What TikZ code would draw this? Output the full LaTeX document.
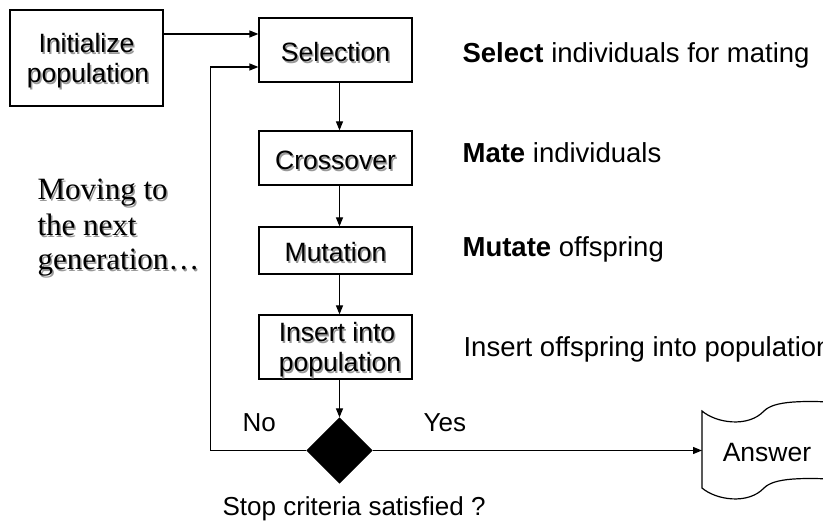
\documentclass[tikz,border=0pt]{standalone}
\usepackage{fontspec}
\setmainfont{Liberation Sans}
\newfontfamily\notefont{Liberation Serif}
\usetikzlibrary{shapes.geometric,arrows.meta}
\definecolor{shadowgray}{gray}{0.6}
\newcommand\txtsh[1]{\makebox[0pt][l]{\hspace{1.5pt}\raisebox{-1.5pt}{\textcolor{shadowgray}{#1}}}#1}
\begin{document}
\begin{tikzpicture}[x=1pt,y=-1pt, line width=1.2pt,
  flowbox/.style={draw, rectangle, inner sep=0pt, minimum width=153pt},
  boxtext/.style={anchor=base, font=\fontsize{26.5}{30}\selectfont, inner sep=0pt},
  sidetext/.style={anchor=base west, font=\fontsize{27.5}{33}\selectfont, inner sep=0pt},
  serifnote/.style={anchor=base west, font=\notefont\fontsize{31}{35}\selectfont, inner sep=0pt},
  plainlbl/.style={anchor=base west, font=\fontsize{26}{30}\selectfont, inner sep=0pt},
  arr/.style={-{Triangle[length=9pt,width=7pt]}},
  decision/.style={diamond, fill=black, draw=black, minimum width=65pt, minimum height=65pt, inner sep=0pt}
]
\useasboundingbox (0,0) rectangle (823,529);
\clip (0,0) rectangle (823,529);
\fill[white] (0,0) rectangle (823,529);

% boxes
\node[flowbox, minimum height=96pt] (init) at (86.5,58) {};
\node[flowbox, minimum height=64pt] (sel) at (335.5,50) {};
\node[flowbox, minimum height=54pt] (cross) at (335.5,158) {};
\node[flowbox, minimum height=47pt] (mut) at (335.5,250.5) {};
\node[flowbox, minimum height=64pt] (ins) at (335.5,347) {};
\node[decision] (dia) at (339.5,450.5) {};

% box texts
\node[boxtext] (initA) at (86.5,53) {\txtsh{Initialize}};
\node[boxtext] (initB) at (88,83) {\txtsh{population}};
\node[boxtext] (selT) at (335.5,62) {\txtsh{Selection}};
\node[boxtext] (crossT) at (335.5,170) {\txtsh{Crossover}};
\node[boxtext] (mutT) at (335.5,262) {\txtsh{Mutation}};
\node[boxtext] (insA) at (337,342) {\txtsh{Insert into}};
\node[boxtext] (insB) at (340,372) {\txtsh{population}};

% side descriptions
\node[sidetext] (s1) at (462,63) {\textbf{Select} individuals for mating};
\node[sidetext] (s2) at (462,163) {\textbf{Mate} individuals};
\node[sidetext] (s3) at (462,257) {\textbf{Mutate} offspring};
\node[sidetext] (s4) at (463,357) {Insert offspring into population};

% note
\node[serifnote] (mv1) at (37,200) {\txtsh{Moving to}};
\node[serifnote] (mv2) at (37,236) {\txtsh{the next}};
\node[serifnote] (mv3) at (37,270) {\txtsh{generation…}};

% labels
\node[plainlbl] (no) at (242,432) {No};
\node[plainlbl] (yes) at (423,432) {Yes};
\node[plainlbl] (stop) at (222,516) {Stop criteria satisfied ?};

% answer document shape
\draw (702,411) .. controls (716,423) and (748,428) .. (764,411)
  .. controls (774,401) and (800,400) .. (850,403) -- (850,480)
  .. controls (800,477) and (774,478) .. (764,488)
  .. controls (748,505) and (716,500) .. (702,488) -- cycle;
\node[boxtext] (ans) at (767,462) {Answer};
\coordinate (ansL) at (702,450.5);

% connectors
\draw[arr] ([yshift=24pt]init.east) -- ([yshift=16pt]sel.west);
\draw[arr] (sel.south -| dia.north) -- (cross.north -| dia.north);
\draw[arr] (cross.south -| dia.north) -- (mut.north -| dia.north);
\draw[arr] (mut.south -| dia.north) -- (ins.north -| dia.north);
\draw[arr] (ins.south -| dia.north) -- (dia.north);
\draw[arr] (dia.west) -| ([xshift=-48pt,yshift=-17pt]sel.west) -- ([yshift=-17pt]sel.west);
\draw[arr] (dia.east) -- (ansL);
\end{tikzpicture}
\end{document}
